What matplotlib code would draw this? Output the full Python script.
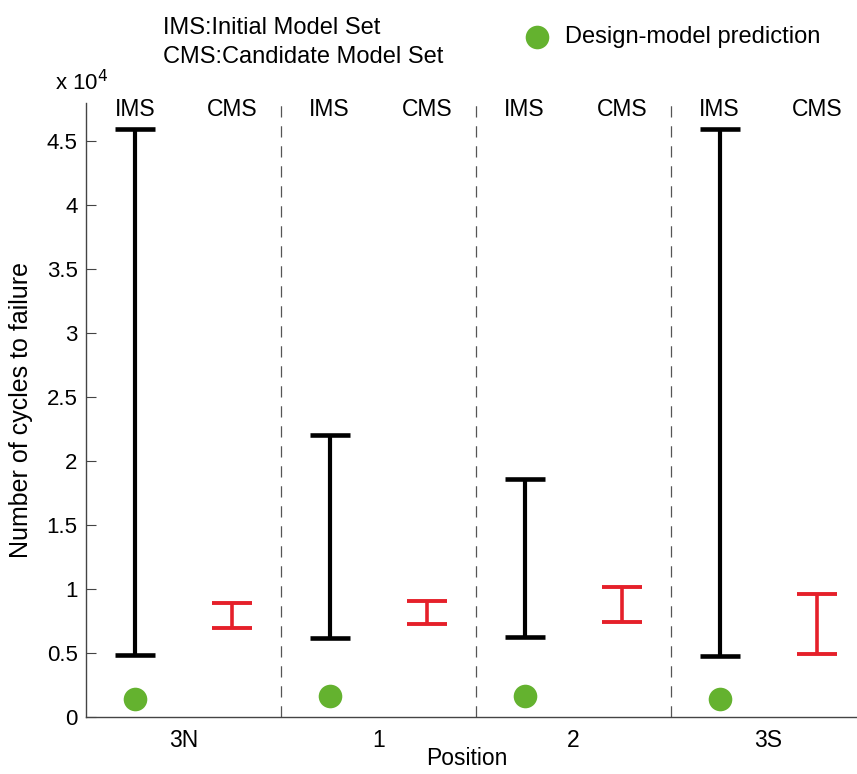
import numpy as np
import matplotlib
matplotlib.use('Agg')
import matplotlib.pyplot as plt

plt.rcParams.update({'font.family': ['Liberation Sans', 'DejaVu Sans'], 'font.size': 16})

positions = ['3N', '1', '2', '3S']
ims_low = [4800, 6130, 6260, 4770]
ims_high = [46000, 22000, 18600, 46000]
cms_low = [6970, 7230, 7430, 4930]
cms_high = [8870, 9050, 10170, 9580]
design_pred = [1360, 1620, 1620, 1380]

SCALE = 1e4
RED = '#e5202a'
GREEN = '#64b22f'

fig = plt.figure(figsize=(8.57, 7.74), dpi=100)
ax = fig.add_axes([0.1003, 0.0740, 0.910, 0.7929])

x = np.arange(1, len(positions) + 1)
x_ims = x - 0.25
x_cms = x + 0.25

ims_lo = np.array(ims_low) / SCALE
ims_hi = np.array(ims_high) / SCALE
cms_lo = np.array(cms_low) / SCALE
cms_hi = np.array(cms_high) / SCALE
ims_mid = (ims_lo + ims_hi) / 2
cms_mid = (cms_lo + cms_hi) / 2

ax.errorbar(x_ims, ims_mid, yerr=[ims_mid - ims_lo, ims_hi - ims_mid], fmt='none',
            ecolor='black', elinewidth=3, capsize=14.5, capthick=3.3)
ax.errorbar(x_cms, cms_mid, yerr=[cms_mid - cms_lo, cms_hi - cms_mid], fmt='none',
            ecolor=RED, elinewidth=2.6, capsize=14.5, capthick=2.8)
ax.plot(x_ims, np.array(design_pred) / SCALE, 'o', color=GREEN, markersize=17,
        markeredgewidth=0, zorder=4)

for sep in x[:-1] + 0.5:
    ax.axvline(sep, color='#555555', lw=0.9, dashes=(9, 7))

for xi, xc in zip(x_ims, x_cms):
    ax.text(xi, 4.75, 'IMS', ha='center', va='center', fontsize=16.5)
    ax.text(xc, 4.75, 'CMS', ha='center', va='center', fontsize=16.5)

ax.set_xlim(0.5, 4.5)
ax.set_ylim(0, 4.8)
ax.set_xticks(x)
ax.set_xticklabels(positions, fontsize=16.5)
ax.set_yticks(np.arange(0, 4.51, 0.5))
ax.set_yticklabels(['0', '0.5', '1', '1.5', '2', '2.5', '3', '3.5', '4', '4.5'], fontsize=16)
ax.tick_params(axis='y', direction='in', length=7, width=0.8, color='#444444', pad=6)
ax.tick_params(axis='x', length=0, pad=9)
ax.spines['top'].set_visible(False)
ax.spines['right'].set_visible(False)
for s in ['left', 'bottom']:
    ax.spines[s].set_color('#444444')
    ax.spines[s].set_linewidth(1.0)
ax.set_ylabel('Number of cycles to failure', fontsize=18, labelpad=10)

fig.text(0.545, 0.005, 'Position', ha='center', va='bottom', fontsize=16.5)
fig.text(0.064, 0.893, r'x 10$^4$', ha='left', va='center', fontsize=16)
fig.text(0.190, 0.964, 'IMS:Initial Model Set', ha='left', va='center', fontsize=17)
fig.text(0.190, 0.926, 'CMS:Candidate Model Set', ha='left', va='center', fontsize=17)
fig.lines.append(plt.Line2D([0.6266], [0.952], marker='o', color=GREEN, markersize=17,
                            markeredgewidth=0, transform=fig.transFigure))
fig.text(0.659, 0.952, 'Design-model prediction', ha='left', va='center', fontsize=17)

fig.savefig('out.png', dpi=100)
